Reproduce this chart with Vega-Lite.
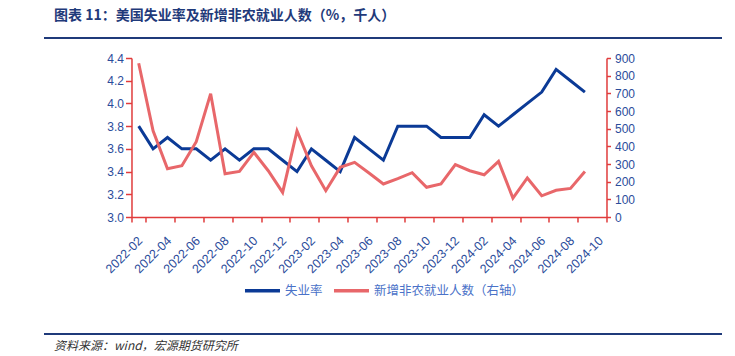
{
  "$schema": "https://vega.github.io/schema/vega-lite/v6.json",
  "background": "white",
  "padding": {"left": 44, "top": 9, "right": 0, "bottom": 0},
  "title": {"text": "图表 11：美国失业率及新增非农就业人数（%，千人）", "anchor": "start", "font": "Noto Sans CJK SC", "fontSize": 14, "fontWeight": "bold", "color": "#1F3A7A", "dx": 10, "offset": 12},
  "spacing": 11,
  "center": true,
  "resolve": {"legend": {"color": "independent"}},
  "config": {"view": {"stroke": null}},
  "vconcat": [
    {
      "width": 678, "height": 2,
      "data": {"values": [{"a": 1}]},
      "mark": {"type": "point", "opacity": 0},
      "view": {"fill": "#1F3A7A", "stroke": null}
    },
    {
      "width": 475, "height": 159,
      "data": {"values": [
        {"month": "2022-02", "rate": 3.8, "nfp": 870},
        {"month": "2022-03", "rate": 3.6, "nfp": 488},
        {"month": "2022-04", "rate": 3.7, "nfp": 273},
        {"month": "2022-05", "rate": 3.6, "nfp": 290},
        {"month": "2022-06", "rate": 3.6, "nfp": 426},
        {"month": "2022-07", "rate": 3.5, "nfp": 698},
        {"month": "2022-08", "rate": 3.6, "nfp": 245},
        {"month": "2022-09", "rate": 3.5, "nfp": 258},
        {"month": "2022-10", "rate": 3.6, "nfp": 366},
        {"month": "2022-11", "rate": 3.6, "nfp": 262},
        {"month": "2022-12", "rate": 3.5, "nfp": 139},
        {"month": "2023-01", "rate": 3.4, "nfp": 488},
        {"month": "2023-02", "rate": 3.6, "nfp": 290},
        {"month": "2023-03", "rate": 3.5, "nfp": 149},
        {"month": "2023-04", "rate": 3.4, "nfp": 281},
        {"month": "2023-05", "rate": 3.7, "nfp": 309},
        {"month": "2023-06", "rate": 3.6, "nfp": 249},
        {"month": "2023-07", "rate": 3.5, "nfp": 187},
        {"month": "2023-08", "rate": 3.8, "nfp": 217},
        {"month": "2023-09", "rate": 3.8, "nfp": 251},
        {"month": "2023-10", "rate": 3.8, "nfp": 168},
        {"month": "2023-11", "rate": 3.7, "nfp": 187},
        {"month": "2023-12", "rate": 3.7, "nfp": 296},
        {"month": "2024-01", "rate": 3.7, "nfp": 262},
        {"month": "2024-02", "rate": 3.9, "nfp": 239},
        {"month": "2024-03", "rate": 3.8, "nfp": 315},
        {"month": "2024-04", "rate": 3.9, "nfp": 107},
        {"month": "2024-05", "rate": 4.0, "nfp": 221},
        {"month": "2024-06", "rate": 4.1, "nfp": 120},
        {"month": "2024-07", "rate": 4.3, "nfp": 151},
        {"month": "2024-08", "rate": 4.2, "nfp": 162},
        {"month": "2024-09", "rate": 4.1, "nfp": 258}
      ]},
      "encoding": {
        "x": {
          "field": "month", "type": "ordinal", "bandPosition": 0.5,
          "scale": {"type": "band", "paddingInner": 0, "paddingOuter": 0,
            "domain": ["2022-02","2022-03","2022-04","2022-05","2022-06","2022-07","2022-08","2022-09","2022-10","2022-11","2022-12","2023-01","2023-02","2023-03","2023-04","2023-05","2023-06","2023-07","2023-08","2023-09","2023-10","2023-11","2023-12","2024-01","2024-02","2024-03","2024-04","2024-05","2024-06","2024-07","2024-08","2024-09","2024-10"]},
          "axis": {
            "title": null, "grid": false,
            "values": ["2022-02","2022-04","2022-06","2022-08","2022-10","2022-12","2023-02","2023-04","2023-06","2023-08","2023-10","2023-12","2024-02","2024-04","2024-06","2024-08","2024-10"],
            "tickBand": "extent",
            "labelAngle": -45, "labelColor": "#2B4C9B", "labelFont": "Liberation Sans", "labelFontSize": 12.5, "labelPadding": 12, "labelOffset": -3,
            "domainColor": "#E03C3C", "domainWidth": 1.5, "tickColor": "#E03C3C", "tickWidth": 1.5, "tickSize": 5
          }
        }
      },
      "layer": [
        {
          "mark": {"type": "line", "strokeWidth": 3},
          "encoding": {
            "y": {"field": "rate", "type": "quantitative",
              "scale": {"domain": [3.0, 4.4], "nice": false, "zero": false},
              "axis": {"title": null, "grid": false, "values": [3.0,3.2,3.4,3.6,3.8,4.0,4.2,4.4], "format": ".1f",
                "labelColor": "#2B4C9B", "labelFont": "Liberation Sans", "labelFontSize": 12, "labelPadding": 2,
                "domainColor": "#E03C3C", "domainWidth": 1.5, "tickColor": "#E03C3C", "tickWidth": 1.5, "tickSize": 6}},
            "color": {"datum": "失业率", "type": "nominal",
              "scale": {"domain": ["失业率", "新增非农就业人数（右轴）"], "range": ["#0B3A96", "#E8676A"]},
              "legend": {"orient": "none", "legendX": 89.5, "legendY": 191, "direction": "horizontal", "columns": 2, "title": null,
                "symbolType": "stroke", "symbolSize": 1225, "symbolStrokeWidth": 3.5,
                "labelFont": "Noto Sans CJK SC", "labelFontSize": 12.5, "labelColor": "#4A72C8",
                "columnPadding": 4, "labelOffset": 3, "padding": 22}}
          }
        },
        {
          "mark": {"type": "line", "strokeWidth": 3},
          "encoding": {
            "y": {"field": "nfp", "type": "quantitative",
              "scale": {"domain": [0, 900], "nice": false},
              "axis": {"orient": "right", "title": null, "grid": false, "values": [0,100,200,300,400,500,600,700,800,900],
                "labelColor": "#2B4C9B", "labelFont": "Liberation Sans", "labelFontSize": 12, "labelPadding": 4,
                "domainColor": "#E03C3C", "domainWidth": 1.5, "tickColor": "#E03C3C", "tickWidth": 1.5, "tickSize": 4}},
            "color": {"datum": "新增非农就业人数（右轴）", "type": "nominal"}
          }
        }
      ],
      "resolve": {"scale": {"y": "independent"}}
    },
    {
      "width": 678, "height": 2,
      "data": {"values": [{"a": 1}]},
      "mark": {"type": "point", "opacity": 0},
      "view": {"fill": "#1F3A7A", "stroke": null},
      "title": {"text": "资料来源：wind，宏源期货研究所", "orient": "bottom", "anchor": "start", "font": "Noto Sans CJK SC", "fontSize": 12, "fontStyle": "italic", "fontWeight": "normal", "color": "#333333", "dx": 10, "offset": 4}
    }
  ]
}
